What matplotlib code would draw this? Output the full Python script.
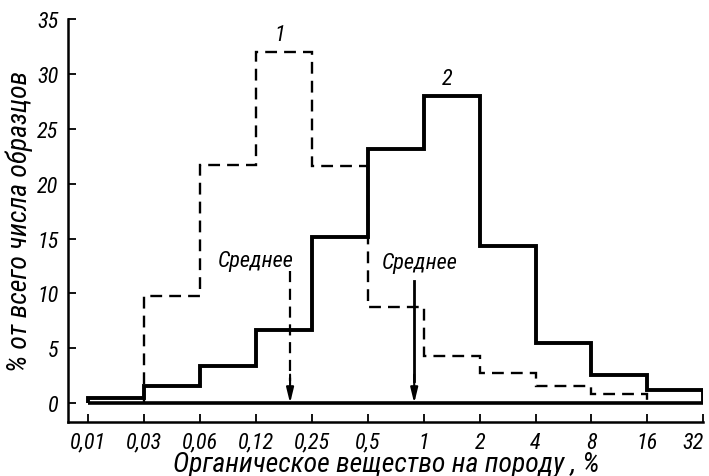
import numpy as np
import matplotlib
matplotlib.use("Agg")
import matplotlib.pyplot as plt
from matplotlib import font_manager

# Prefer a narrow face if one is installed
_installed = {f.name for f in font_manager.fontManager.ttflist}
_narrow = [n for n in ['Liberation Sans Narrow', 'DejaVu Sans Condensed', 'Roboto Condensed',
                       'Open Sans Condensed'] if n in _installed]
plt.rcParams['font.family'] = _narrow[:1] + ['DejaVu Sans']
plt.rcParams['font.style'] = 'italic'
FS = 16 if _narrow else 12.5
FL = 20 if _narrow else 14

# Bin edges (% organic matter), spaced evenly on the axis
edge_labels = ["0,01", "0,03", "0,06", "0,12", "0,25", "0,5", "1", "2", "4", "8", "16", "32"]

# Share of samples per bin, %
series1 = [0.0, 9.8, 21.7, 32.0, 21.6, 8.8, 4.3, 2.7, 1.6, 0.8, 0.0]   # curve 1 (dashed)
series2 = [0.5, 1.6, 3.4, 6.7, 15.1, 23.2, 28.0, 14.3, 5.5, 2.6, 1.2]  # curve 2 (solid)

# Position of the mean on the bin axis
mean_pos = [3.61, 5.83]

edges = np.arange(len(edge_labels))

fig = plt.figure(figsize=(7.09, 4.77), dpi=100)
ax = fig.add_axes([0.096, 0.113, 0.896, 0.845])

# Zero baseline
ax.hlines(0, edges[0], edges[-1], color='black', lw=2.6, zorder=3)

# Curve 2: solid histogram
ax.stairs(series2, edges, baseline=0, color='black', lw=2.8, zorder=3)

# Curve 1: dashed histogram (only the non-zero part)
nz = [i for i, v in enumerate(series1) if v > 0]
i0, i1 = nz[0], nz[-1] + 1
ax.stairs(series1[i0:i1], edges[i0:i1 + 1], baseline=0, color='black', lw=1.7,
          linestyle=(0, (5, 3)), zorder=2)

# Mean arrows
for k, (xm, ls) in enumerate(zip(mean_pos, [(0, (5, 3)), '-'])):
    top = 12.0 if k == 0 else 11.1
    ax.plot([xm, xm], [top, 2.0], color='black', lw=1.6 if k == 0 else 2.0, linestyle=ls, zorder=4)
    ax.annotate('', xy=(xm, 0), xytext=(xm, 2.6),
                arrowprops=dict(arrowstyle='-|>,head_length=0.9,head_width=0.22',
                                color='black', lw=1.5, shrinkA=0, shrinkB=0), zorder=4)

ax.text(3.0, 13.0, "Среднее", ha='center', va='center', fontsize=FS)
ax.text(5.93, 12.8, "Среднее", ha='center', va='center', fontsize=FS)
ax.text(3.43, 33.6, "1", ha='center', va='center', fontsize=FS)
ax.text(6.42, 29.6, "2", ha='center', va='center', fontsize=FS)

ax.set_xlim(-0.36, 11.0)
ax.set_ylim(-1.73, 35)
ax.set_xticks(edges)
ax.set_xticklabels(edge_labels, fontsize=FS)
ax.set_yticks(np.arange(0, 36, 5))
ax.set_yticklabels([str(v) for v in range(0, 36, 5)], fontsize=FS)
ax.tick_params(axis='both', direction='in', length=6, width=1.3, pad=7)
# keep the last tick label inside the canvas
ax.get_xticklabels()[-1].set_horizontalalignment('right')
ax.get_xticklabels()[-1].set_x(11.12)

for s in ['top', 'right']:
    ax.spines[s].set_visible(False)
for s in ['left', 'bottom']:
    ax.spines[s].set_linewidth(1.8)

ax.set_xlabel("Органическое вещество на породу , %", fontsize=FL, labelpad=-1)
ax.set_ylabel("% от всего числа образцов", fontsize=FL, labelpad=3)

fig.savefig("out.png", dpi=100)
